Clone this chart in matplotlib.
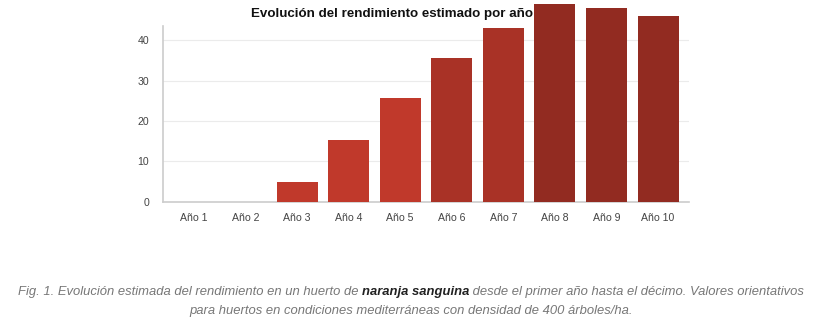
import matplotlib
matplotlib.use("Agg")
import matplotlib.pyplot as plt

years = ['Año 1', 'Año 2', 'Año 3', 'Año 4', 'Año 5',
         'Año 6', 'Año 7', 'Año 8', 'Año 9', 'Año 10']
rendimiento = [0, 0, 5, 15.3, 25.6, 35.7, 43, 49, 48, 46]
colores = ['#c0392b'] * 5 + ['#a93226'] * 2 + ['#922b21'] * 3

title = 'Evolución del rendimiento estimado por año'
cap_a = 'Fig. 1. Evolución estimada del rendimiento en un huerto de '
cap_b = 'naranja sanguina'
cap_c = ' desde el primer año hasta el décimo. Valores orientativos'
cap_2 = 'para huertos en condiciones mediterráneas con densidad de 400 árboles/ha.'

plt.rcParams['font.family'] = ['Liberation Sans', 'DejaVu Sans']

W, H = 822, 328
fig = plt.figure(figsize=(W / 100, H / 100), dpi=100)
fig.patch.set_facecolor('white')

# axes box in pixels: left 163, right 689, bottom 201.7, top 26
ax = fig.add_axes([163 / W, 1 - 201.7 / H, (689 - 163) / W, (201.7 - 26) / H])
x = range(len(years))
ax.bar(x, rendimiento, width=0.795, color=colores, clip_on=False, zorder=3)
ax.set_xlim(-0.6, 9.6)
ax.set_ylim(0, 43.5)
ax.set_yticks([0, 10, 20, 30, 40])
ax.set_xticks(list(x))
ax.set_xticklabels(years)
ax.tick_params(length=0, labelsize=7.6, colors='#444444', pad=8)
ax.tick_params(axis='y', pad=10)
ax.yaxis.grid(True, color='#ebebeb', linewidth=0.8, zorder=0)
ax.set_axisbelow(True)
for s in ['top', 'right']:
    ax.spines[s].set_visible(False)
for s in ['left', 'bottom']:
    ax.spines[s].set_color('#cccccc')
    ax.spines[s].set_linewidth(1.2)

fig.text(392 / W, 1 - 14 / H, title, ha='center', va='center',
         fontsize=9.6, fontweight='bold', color='#111111', zorder=5)

# caption, first line with a bold part
cap_kw = dict(fontsize=9.4, style='italic', color='#777777', va='center')
y1 = 1 - 292 / H
y2 = 1 - 311 / H
r = fig.canvas.get_renderer()
ta = fig.text(0, y1, cap_a, **cap_kw)
tb = fig.text(0, y1, cap_b, **dict(cap_kw, color='#222222', fontweight='bold'))
tc = fig.text(0, y1, cap_c, **cap_kw)
wa = ta.get_window_extent(r).width
wb = tb.get_window_extent(r).width
wc = tc.get_window_extent(r).width
x0 = (W - (wa + wb + wc)) / 2
ta.set_x(x0 / W)
tb.set_x((x0 + wa) / W)
tc.set_x((x0 + wa + wb) / W)
fig.text(0.5, y2, cap_2, ha='center', **cap_kw)

fig.savefig('out.png', dpi=100, facecolor='white')
